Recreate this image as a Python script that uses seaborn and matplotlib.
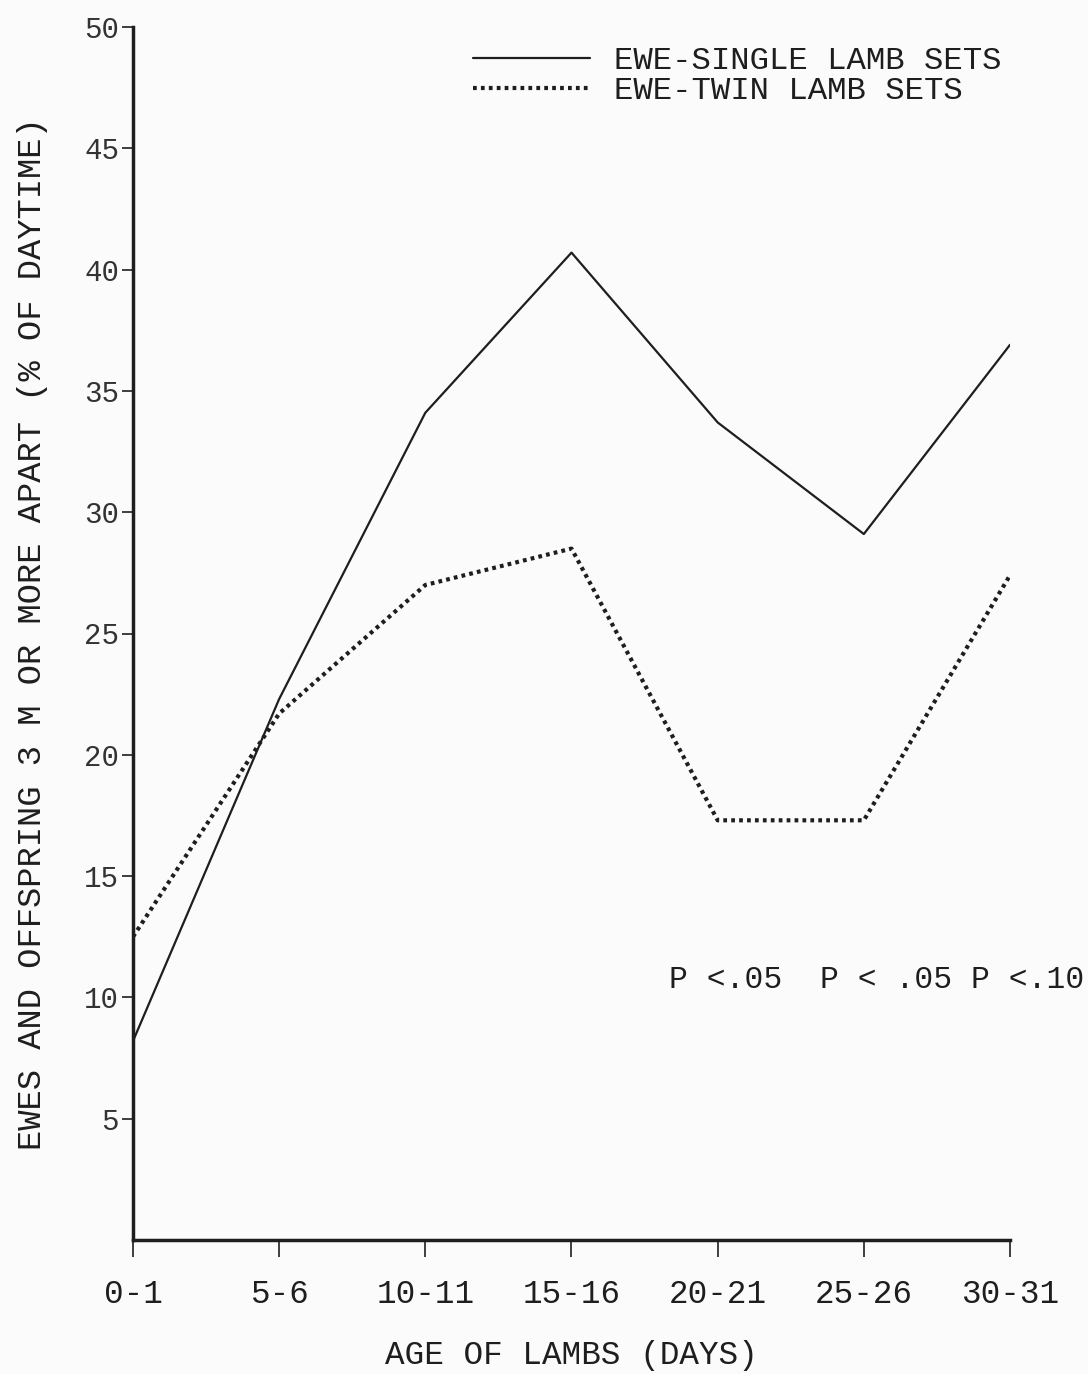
import numpy as np
import pandas as pd
import matplotlib
matplotlib.use("Agg")
import matplotlib.pyplot as plt
import seaborn as sns

ages = ['0-1', '5-6', '10-11', '15-16', '20-21', '25-26', '30-31']
single = [8.2, 22.3, 34.1, 40.7, 33.7, 29.1, 36.9]
twin = [12.5, 21.7, 27.0, 28.5, 17.3, 17.3, 27.4]
y_ticks = [5, 10, 15, 20, 25, 30, 35, 40, 45, 50]

df = pd.DataFrame({
    'pos': list(range(len(ages))) * 2,
    'value': single + twin,
    'set': ['EWE-SINGLE LAMB SETS'] * len(ages) + ['EWE-TWIN LAMB SETS'] * len(ages),
})

sns.set_style("ticks")
plt.rcParams['font.family'] = ['Liberation Mono', 'DejaVu Sans Mono']
ink = '#1e1e1e'

fig = plt.figure(figsize=(10.88, 13.74), dpi=100, facecolor='#fbfbfb')
ax = fig.add_axes([133 / 1088, 1 - 1240 / 1374, (1010 - 133) / 1088, (1240 - 27) / 1374])
ax.set_facecolor('#fbfbfb')

sns.lineplot(data=df[df['set'] == 'EWE-SINGLE LAMB SETS'], x='pos', y='value',
             color=ink, linewidth=1.6, label='EWE-SINGLE LAMB SETS', ax=ax)
sns.lineplot(data=df[df['set'] == 'EWE-TWIN LAMB SETS'], x='pos', y='value',
             color=ink, linewidth=3.0, linestyle=(0, (0.9, 1.0)), label='EWE-TWIN LAMB SETS', ax=ax)

ax.set_xlim(0, 6)
ax.set_ylim(0, 50)
ax.set_xticks(range(len(ages)))
ax.set_xticklabels(ages, fontsize=23.5, color=ink)
ax.set_yticks(y_ticks)
ax.set_yticklabels([str(v) for v in y_ticks], fontsize=21, color='#333333')

for s in ['top', 'right']:
    ax.spines[s].set_visible(False)
for s in ['left', 'bottom']:
    ax.spines[s].set_linewidth(2.5)
    ax.spines[s].set_color(ink)
ax.tick_params(axis='x', direction='out', length=12, width=1.2, color=ink, pad=16)
ax.tick_params(axis='y', direction='out', length=8, width=1.2, color=ink, pad=2)

ax.set_xlabel('AGE OF LAMBS (DAYS)', fontsize=23.5, color=ink, labelpad=22)
ax.set_ylabel('EWES AND OFFSPRING 3 M OR MORE APART (% OF DAYTIME)', fontsize=24.3,
              color=ink, labelpad=26)

leg = ax.legend(loc='upper left', bbox_to_anchor=(0.355, 1.008), frameon=False,
                fontsize=23.3, handlelength=3.6, handletextpad=0.75, labelspacing=0.0)
for t in leg.get_texts():
    t.set_color(ink)

ax.text(3.67, 10.7, 'P <.05  P < .05 P <.10', fontsize=22.6, color=ink,
        ha='left', va='center', clip_on=False)

fig.savefig('out.png', dpi=100, facecolor=fig.get_facecolor())
